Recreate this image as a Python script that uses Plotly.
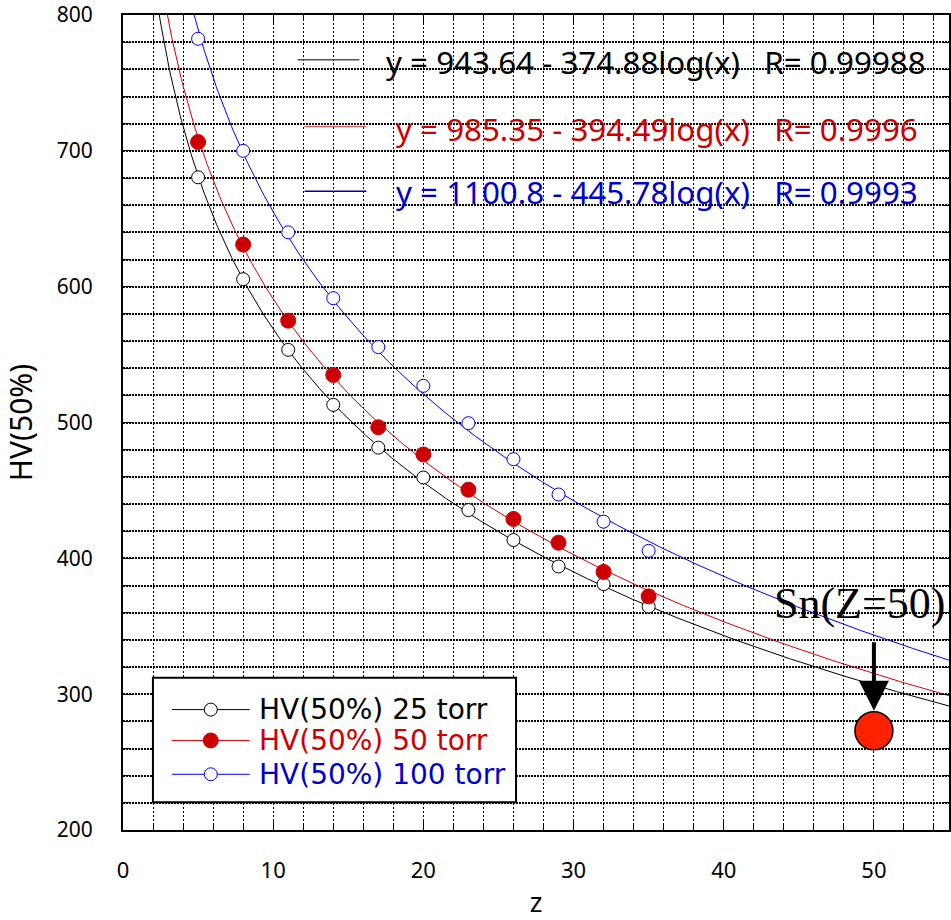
import numpy as np
import plotly.graph_objects as go

# ---------------- data ----------------
z_vals = [5, 8, 11, 14, 17, 20, 23, 26, 29, 32, 35]
hv_25 = [680.5, 605.5, 553.5, 513.0, 481.5, 459.5, 435.5, 413.5, 394.0, 381.0, 364.5]
hv_50 = [706.5, 631.0, 575.0, 535.0, 496.5, 476.5, 450.5, 429.0, 411.5, 390.0, 372.0]
hv_100 = [782.5, 700.0, 640.0, 591.5, 555.5, 527.0, 499.5, 473.0, 447.0, 427.0, 405.5]

series_names = ["HV(50%) 25 torr", "HV(50%) 50 torr", "HV(50%) 100 torr"]
fit_intercepts = [943.64, 985.35, 1100.8]
fit_slopes = [374.88, 394.49, 445.78]
fit_intercept_labels = ["943.64", "985.35", "1100.8"]
fit_slope_labels = ["374.88", "394.49", "445.78"]
fit_r_labels = ["0.99988", "0.9996", "0.9993"]

sn_z = [50]
sn_hv = [273]
sn_label = "Sn(Z=50)"

x_ticks = [0, 10, 20, 30, 40, 50]
y_ticks = [200, 300, 400, 500, 600, 700, 800]

# ---------------- styling ----------------
W, H = 951, 920
L, R, T, B = 123, 0, 12, 89
PW, PH = W - L - R, H - T - B

def px2paper(px, py):
    return (px - L) / PW, (H - B - py) / PH

text_colors = ["#000000", "#CC0000", "#0000CC"]
line_colors = ["#000000", "#D40000", "#0000FF"]
seg_colors = ["#555555", "#E06060", "#0000AA"]
marker_fill = ["white", "#CC0000", "white"]
marker_size = [13, 15, 13]

fig = go.Figure()

zfit = np.linspace(2.0, 56.0, 600)
for a, b, c in zip(fit_intercepts, fit_slopes, line_colors):
    fig.add_trace(go.Scatter(x=zfit, y=a - b * np.log10(zfit), mode="lines",
                             line=dict(color=c, width=1), showlegend=False,
                             hoverinfo="skip"))

for name, ys, lc, mf, ms in zip(series_names, [hv_25, hv_50, hv_100],
                                line_colors, marker_fill, marker_size):
    fig.add_trace(go.Scatter(
        x=z_vals, y=ys, mode="markers", name=name, showlegend=False,
        marker=dict(symbol="circle", size=ms, color=mf,
                    line=dict(color=lc, width=1)),
    ))

fig.add_trace(go.Scatter(x=sn_z, y=sn_hv, mode="markers", showlegend=False,
                         marker=dict(size=38, color="#FF2200",
                                     line=dict(color="black", width=1.5))))

shapes = []
annotations = []

# equation annotations
seg_px = [(298, 360, 57), (305, 367, 124), (305, 367, 189)]
txt_px = [(385, 59), (395, 127), (395, 190)]
for i in range(3):
    x0, x1, yy = seg_px[i]
    p0 = px2paper(x0, yy)
    p1 = px2paper(x1, yy)
    shapes.append(dict(type="line", xref="paper", yref="paper",
                       x0=p0[0], x1=p1[0], y0=p0[1], y1=p1[1],
                       line=dict(color=seg_colors[i], width=1.5)))
    tp = px2paper(*txt_px[i])
    annotations.append(dict(
        xref="paper", yref="paper", x=tp[0], y=tp[1], xanchor="left", yanchor="middle",
        showarrow=False,
        text=(f"y = {fit_intercept_labels[i]} - {fit_slope_labels[i]}log(x)"
              f"&nbsp;&nbsp;&nbsp;R= {fit_r_labels[i]}"),
        font=dict(family="Noto Sans", size=31.3, color=text_colors[i])))

# manual legend box
bx0, by0 = px2paper(153, 678)
bx1, by1 = px2paper(517, 803)
shapes.append(dict(type="rect", xref="paper", yref="paper", x0=bx0, x1=bx1, y0=by0, y1=by1,
                   fillcolor="white", line=dict(color="black", width=2), layer="above"))
row_py = [710, 741, 775]
for i in range(3):
    yy = row_py[i]
    p0 = px2paper(172, yy)
    p1 = px2paper(250, yy)
    shapes.append(dict(type="line", xref="paper", yref="paper", x0=p0[0], x1=p1[0],
                       y0=p0[1], y1=p1[1], line=dict(color=line_colors[i], width=1),
                       layer="above"))
    r = marker_size[i] / 2
    c0 = px2paper(211 - r, yy + r)
    c1 = px2paper(211 + r, yy - r)
    shapes.append(dict(type="circle", xref="paper", yref="paper", x0=c0[0], x1=c1[0],
                       y0=c0[1], y1=c1[1], fillcolor=marker_fill[i],
                       line=dict(color=line_colors[i], width=1), layer="above"))
    tp = px2paper(257, yy)
    annotations.append(dict(xref="paper", yref="paper", x=tp[0], y=tp[1], xanchor="left",
                            yanchor="middle", showarrow=False, text=series_names[i],
                            font=dict(family="DejaVu Sans", size=28, color=text_colors[i])))

# Sn label and arrow
sp = px2paper(774, 603)
annotations.append(dict(xref="paper", yref="paper", x=sp[0], y=sp[1], xanchor="left",
                        yanchor="middle", showarrow=False, text=sn_label,
                        font=dict(family="Liberation Serif", size=44, color="black")))
annotations.append(dict(x=sn_z[0], y=sn_hv[0], xref="x", yref="y", text="",
                        showarrow=True, ax=0, ay=-90, axref="pixel", ayref="pixel",
                        arrowhead=2, arrowsize=1.5, arrowwidth=4, arrowcolor="black",
                        standoff=20))

fig.update_layout(
    width=W, height=H,
    margin=dict(l=L, r=R, t=T, b=B, pad=0),
    plot_bgcolor="white", paper_bgcolor="white",
    shapes=shapes, annotations=annotations,
    showlegend=False,
    xaxis=dict(range=[0, 55], tickvals=x_ticks, ticks="inside", ticklen=10, tickwidth=1,
               tickcolor="black", showline=True, linecolor="black", linewidth=2,
               mirror="allticks", showgrid=True, gridcolor="black", gridwidth=1.2,
               griddash="2px,2px", zeroline=False, ticklabelstandoff=20,
               tickfont=dict(family="Noto Sans", size=22, color="black"),
               title=dict(text="z", font=dict(family="Noto Sans", size=27, color="black"),
                          standoff=17),
               minor=dict(dtick=2, ticks="inside", ticklen=6, tickcolor="black",
                          showgrid=True, gridcolor="black", gridwidth=1,
                          griddash="2px,2px")),
    yaxis=dict(range=[200, 800], tickvals=y_ticks, ticks="inside", ticklen=10, tickwidth=1,
               tickcolor="black", showline=True, linecolor="black", linewidth=2,
               mirror="allticks", showgrid=True, gridcolor="black", gridwidth=2,
               griddash="2px,1px", zeroline=False, ticklabelstandoff=24,
               ticklabeloverflow="allow",
               tickfont=dict(family="Noto Sans", size=21, color="black"),
               title=dict(text="HV(50%)", font=dict(family="Noto Sans", size=30, color="black"),
                          standoff=18),
               minor=dict(dtick=20, ticks="inside", ticklen=6, tickcolor="black",
                          showgrid=True, gridcolor="black", gridwidth=2,
                          griddash="2px,1px")),
)

fig.write_html("out.html")
